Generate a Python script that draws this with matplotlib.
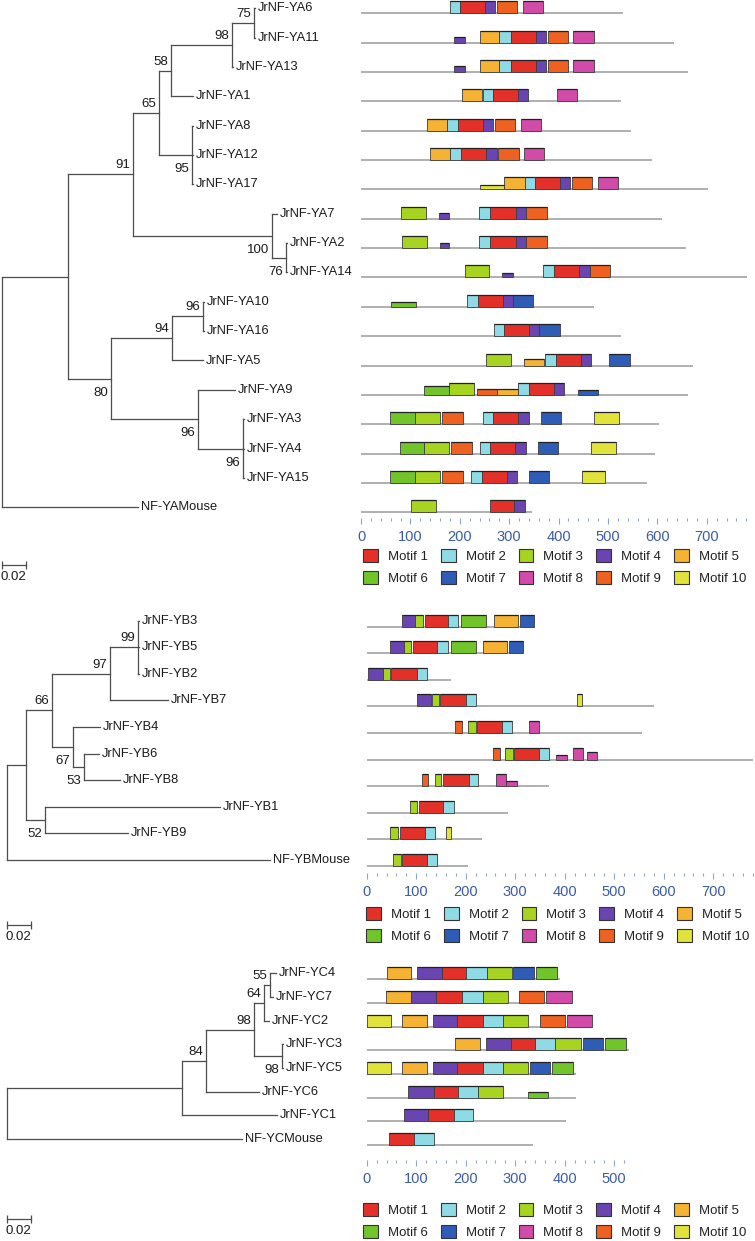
import matplotlib
matplotlib.use('Agg')
import matplotlib.pyplot as plt
from matplotlib.patches import Patch
from matplotlib.ticker import MultipleLocator

plt.rcParams['font.family'] = ['Liberation Sans', 'DejaVu Sans']

# ---- data: trees (newick, bootstrap as node name) ----
ya_tree = ("(((((((JrNF-YA6:0.0009,JrNF-YA11:0.0009)75:0.0187,JrNF-YA13:0.0009)98:0.0519,"
           "JrNF-YA1:0.0187)58:0.0102,(JrNF-YA8:0.0009,JrNF-YA12:0.0009,JrNF-YA17:0.0009)95:0.0281)65:0.0221,"
           "(JrNF-YA7:0.0043,(JrNF-YA2:0.0009,JrNF-YA14:0.0009)76:0.0119)100:0.1183)91:0.0553,"
           "(((JrNF-YA10:0.0009,JrNF-YA16:0.0009)96:0.0264,JrNF-YA5:0.0264)94:0.0519,"
           "(JrNF-YA9:0.0315,(JrNF-YA3:0.0009,JrNF-YA4:0.0009,JrNF-YA15:0.0009)96:0.0383)96:0.0740)80:0.0366):0.0562,"
           "NF-YAMouse:0.1157);")
yb_tree = ("(((((JrNF-YB3:0.0009,JrNF-YB5:0.0009,JrNF-YB2:0.0009)99:0.0238,JrNF-YB7:0.0494)97:0.0494,"
           "(JrNF-YB4:0.0230,(JrNF-YB6:0.0128,JrNF-YB8:0.0306)53:0.0094)67:0.0179)66:0.0221,"
           "(JrNF-YB1:0.1489,JrNF-YB9:0.0706)52:0.0162):0.0162,NF-YBMouse:0.2238);")
yc_tree = ("((((((JrNF-YC4:0.0051,JrNF-YC7:0.0026)55:0.0051,JrNF-YC2:0.0043)64:0.0085,"
           "(JrNF-YC3:0.0009,JrNF-YC5:0.0009)98:0.0238)98:0.0409,JrNF-YC6:0.0451)84:0.0204,"
           "JrNF-YC1:0.0809):0.1489,NF-YCMouse:0.2000);")

# ---- data: protein lengths (aa), same order as tree leaves ----
ya_len = [531, 634, 661, 526, 547, 589, 702, 610, 657, 781, 472, 526, 673, 661, 603, 596, 578, 347]
yb_len = [338, 316, 170, 580, 557, 781, 369, 285, 233, 205]
yc_len = [391, 414, 456, 530, 423, 423, 402, 335]

# ---- data: motifs (motif no., start, end, relative height) ----
ya_motifs = [
    [(2, 180, 200, 1), (1, 200, 250, 1), (4, 250, 272, 1), (9, 276, 316, 1), (8, 328, 368, 1)],
    [(4, 188, 210, .5), (5, 240, 280, 1), (2, 280, 303, 1), (1, 303, 354, 1), (4, 354, 374, 1), (9, 378, 419, 1), (8, 430, 471, 1)],
    [(4, 188, 210, .5), (5, 240, 280, 1), (2, 280, 303, 1), (1, 303, 354, 1), (4, 354, 374, 1), (9, 378, 419, 1), (8, 430, 471, 1)],
    [(5, 204, 244, 1), (2, 246, 268, 1), (1, 268, 317, 1), (4, 317, 339, 1), (8, 397, 438, 1)],
    [(5, 134, 175, 1), (2, 175, 197, 1), (1, 197, 246, 1), (4, 246, 268, 1), (9, 271, 312, 1), (8, 323, 364, 1)],
    [(5, 140, 181, 1), (2, 181, 203, 1), (1, 203, 254, 1), (4, 254, 275, 1), (9, 278, 319, 1), (8, 330, 371, 1)],
    [(10, 240, 289, .4), (5, 289, 331, 1), (2, 331, 353, 1), (1, 353, 402, 1), (4, 402, 423, 1), (9, 427, 468, 1), (8, 479, 520, 1)],
    [(3, 81, 131, 1), (4, 157, 178, .45), (2, 239, 261, 1), (1, 261, 313, 1), (4, 313, 334, 1), (9, 335, 377, 1)],
    [(3, 83, 133, 1), (4, 159, 179, .45), (2, 239, 262, 1), (1, 262, 313, 1), (4, 313, 334, 1), (9, 335, 377, 1)],
    [(3, 211, 260, 1), (4, 286, 307, .4), (2, 369, 391, 1), (1, 391, 442, 1), (4, 442, 463, 1), (9, 464, 505, 1)],
    [(6, 61, 111, .38), (2, 215, 236, 1), (1, 236, 287, 1), (4, 287, 307, 1), (7, 307, 348, 1)],
    [(2, 269, 290, 1), (1, 290, 341, 1), (4, 341, 361, 1), (7, 361, 403, 1)],
    [(3, 254, 304, 1), (5, 329, 370, .55), (2, 373, 395, 1), (1, 395, 445, 1), (4, 445, 466, 1), (7, 503, 545, 1)],
    [(6, 128, 178, .7), (3, 178, 228, 1), (9, 235, 276, .5), (5, 276, 317, .5), (2, 318, 340, 1), (1, 340, 390, 1), (4, 390, 411, 1), (7, 439, 480, .42)],
    [(6, 59, 110, 1), (3, 110, 159, 1), (9, 164, 206, 1), (2, 246, 268, 1), (1, 268, 318, 1), (4, 318, 340, 1), (7, 364, 405, 1), (10, 472, 522, 1)],
    [(6, 78, 128, 1), (3, 128, 178, 1), (9, 183, 224, 1), (2, 240, 261, 1), (1, 261, 312, 1), (4, 312, 333, 1), (7, 358, 399, 1), (10, 466, 516, 1)],
    [(6, 59, 110, 1), (3, 110, 159, 1), (9, 164, 206, 1), (2, 223, 244, 1), (1, 244, 295, 1), (4, 295, 315, 1), (7, 340, 381, 1), (10, 448, 494, 1)],
    [(3, 101, 152, 1), (1, 261, 310, 1), (4, 310, 332, 1)],
]
yb_motifs = [
    [(4, 71, 98, 1), (3, 98, 114, 1), (1, 118, 165, 1), (2, 165, 185, 1), (6, 191, 241, 1), (5, 257, 305, 1), (7, 309, 338, 1)],
    [(4, 47, 75, 1), (3, 75, 90, 1), (1, 94, 143, 1), (2, 143, 164, 1), (6, 170, 220, 1), (5, 234, 284, 1), (7, 287, 316, 1)],
    [(4, 3, 32, 1), (3, 32, 47, 1), (1, 50, 101, 1), (2, 101, 121, 1)],
    [(4, 102, 130, 1), (3, 131, 146, 1), (1, 148, 200, 1), (2, 200, 220, 1), (10, 425, 435, 1)],
    [(9, 178, 192, 1), (3, 205, 220, 1), (1, 222, 274, 1), (2, 274, 294, 1), (8, 328, 349, 1)],
    [(9, 255, 269, 1), (3, 280, 295, 1), (1, 297, 348, 1), (2, 348, 368, 1), (8, 383, 404, .4), (8, 417, 437, 1), (8, 445, 466, .6)],
    [(9, 112, 124, 1), (3, 137, 151, 1), (1, 155, 206, 1), (2, 206, 225, 1), (8, 262, 282, 1), (8, 282, 303, .4)],
    [(3, 87, 102, 1), (1, 106, 155, 1), (2, 155, 176, 1)],
    [(3, 48, 64, 1), (1, 67, 117, 1), (2, 117, 137, 1), (10, 160, 170, 1)],
    [(3, 54, 69, 1), (1, 72, 122, 1), (2, 122, 142, 1)],
]
yc_motifs = [
    [(5, 41, 90, 1), (4, 101, 152, 1), (1, 152, 201, 1), (2, 201, 243, 1), (3, 243, 293, 1), (7, 295, 338, 1), (6, 342, 385, 1)],
    [(5, 39, 90, 1), (4, 90, 141, 1), (1, 141, 192, 1), (2, 192, 234, 1), (3, 234, 285, 1), (9, 308, 358, 1), (8, 363, 414, 1)],
    [(10, 0, 50, 1), (5, 72, 121, 1), (4, 133, 183, 1), (1, 183, 234, 1), (2, 234, 275, 1), (3, 275, 326, 1), (9, 350, 400, 1), (8, 405, 456, 1)],
    [(5, 178, 229, 1), (4, 240, 291, 1), (1, 291, 341, 1), (2, 341, 380, 1), (3, 380, 432, 1), (7, 437, 477, 1), (6, 481, 523, 1)],
    [(10, 0, 50, 1), (5, 72, 121, 1), (4, 133, 183, 1), (1, 183, 234, 1), (2, 234, 275, 1), (3, 275, 326, 1), (7, 329, 371, 1), (6, 374, 416, 1)],
    [(4, 84, 135, 1), (1, 135, 184, 1), (2, 184, 224, 1), (3, 224, 275, 1), (6, 326, 367, .45)],
    [(4, 75, 124, 1), (1, 124, 176, 1), (2, 176, 215, 1)],
    [(1, 46, 96, 1), (2, 96, 135, 1)],
]

motif_names = ['Motif %d' % i for i in range(1, 11)]
motif_colors = ['#e3312a', '#8edbe6', '#a6d420', '#6a45b2', '#f6b232',
                '#72c42b', '#2f5cb6', '#d24ba9', '#ee6121', '#e1e33b']


# ---- newick parser ----
def parse_newick(s):
    pos = 0

    def node():
        nonlocal pos
        n = {'children': [], 'name': '', 'len': 0.0}
        if s[pos] == '(':
            pos += 1
            while True:
                n['children'].append(node())
                if s[pos] == ',':
                    pos += 1
                else:
                    break
            pos += 1
        start = pos
        while s[pos] not in ':,);':
            pos += 1
        n['name'] = s[start:pos]
        if s[pos] == ':':
            pos += 1
            start = pos
            while s[pos] not in ',);':
                pos += 1
            n['len'] = float(s[start:pos])
        return n
    return node()


def layout(n, leaves, depth=0.0):
    n['x'] = depth + n['len']
    if not n['children']:
        n['y'] = len(leaves)
        leaves.append(n)
    else:
        for c in n['children']:
            layout(c, leaves, n['x'])
        n['y'] = (n['children'][0]['y'] + n['children'][-1]['y']) / 2


TREE_C = '#4d4d4d'


def draw_tree(ax, n, upper=True):
    kids = n['children']
    for i, c in enumerate(kids):
        ax.plot([n['x'], c['x']], [c['y'], c['y']], color=TREE_C, lw=0.9)
        draw_tree(ax, c, i == 0)
    if kids:
        ax.plot([n['x'], n['x']], [kids[0]['y'], kids[-1]['y']], color=TREE_C, lw=0.9)
        if n['name']:
            # bootstrap: above the branch for the upper child, below for the lower one
            if upper:
                ax.annotate(n['name'], (n['x'], n['y']), xytext=(-3, 3), textcoords='offset pixels',
                            ha='right', va='bottom', fontsize=9.5, color='#1a1a1a')
            else:
                ax.annotate(n['name'], (n['x'], n['y']), xytext=(-3, -8), textcoords='offset pixels',
                            ha='right', va='top', fontsize=9.5, color='#1a1a1a')
    else:
        ax.annotate(n['name'], (n['x'], n['y']), xytext=(3, 0), textcoords='offset pixels',
                    ha='left', va='center', fontsize=9.3, color='#1a1a1a')


# ---- figure ----
W, H = 755, 1241
K = 1175.0  # tree pixels per unit branch length
fig = plt.figure(figsize=(W / 100, H / 100), dpi=100)

panels = [
    dict(tree=ya_tree, lengths=ya_len, motifs=ya_motifs, y0=8.3, pitch=29.35, base=5,
         x0=361, ppa=0.494, root=2, tick_top=518, bar_y=565, leg=(363, 549)),
    dict(tree=yb_tree, lengths=yb_len, motifs=yb_motifs, y0=620.6, pitch=26.6, base=6,
         x0=366.7, ppa=0.495, root=7, tick_top=873, bar_y=925, leg=(366, 907)),
    dict(tree=yc_tree, lengths=yc_len, motifs=yc_motifs, y0=973.3, pitch=23.67, base=6,
         x0=366.7, ppa=0.495, root=7, tick_top=1160, bar_y=1219, leg=(363, 1203)),
]

handles = [Patch(facecolor=c, edgecolor='#333333', lw=0.8) for c in motif_colors]
order = [0, 5, 1, 6, 2, 7, 3, 8, 4, 9]

for p in panels:
    row = lambda py: (py - p['y0']) / p['pitch']
    top = p['y0'] - p['pitch']

    # tree
    bot = p['bar_y'] + 25
    axt = fig.add_axes([0, 1 - bot / H, 345 / W, (bot - top) / H])
    axt.set_xlim(-p['root'] / K, (345 - p['root']) / K)
    axt.set_ylim(row(bot), row(top))
    axt.axis('off')
    root = parse_newick(p['tree'])
    leaves = []
    layout(root, leaves)
    draw_tree(axt, root)
    # scale bar
    by = row(p['bar_y'])
    axt.plot([0, 0.02], [by, by], color=TREE_C, lw=0.9, marker='|', markersize=6, mew=0.9)
    axt.annotate('0.02', (0.01, by), xytext=(0, -6), textcoords='offset pixels',
                 ha='center', va='top', fontsize=9.5, color='#1a1a1a')

    # motifs
    maxlen = max(p['lengths'])
    axm = fig.add_axes([p['x0'] / W, 1 - p['tick_top'] / H, maxlen * p['ppa'] / W,
                        (p['tick_top'] - top) / H])
    axm.set_xlim(0, maxlen)
    axm.set_ylim(row(p['tick_top']), row(top))
    full = 12.0 / p['pitch']
    for i, (ln, mots) in enumerate(zip(p['lengths'], p['motifs'])):
        base = i + p['base'] / p['pitch']
        axm.plot([0, ln], [base, base], color='#9a9a9a', lw=1.1, zorder=1, solid_capstyle='butt')
        for m, s, e, h in mots:
            axm.bar(s, full * h, width=e - s, bottom=base - full * h, align='edge',
                    color=motif_colors[m - 1], edgecolor='#3c3c3c', lw=0.6, zorder=2)
            axm.plot([s, e], [base - full * h] * 2, color='#222222', lw=0.9, zorder=3,
                     solid_capstyle='butt')
    for sp in axm.spines.values():
        sp.set_visible(False)
    axm.patch.set_alpha(0)
    axm.set_yticks([])
    axm.xaxis.set_major_locator(MultipleLocator(100))
    axm.xaxis.set_minor_locator(MultipleLocator(20))
    axm.tick_params(axis='x', which='major', length=4.5, width=0.8, color='#8ea4d2',
                    labelcolor='#3b5ca6', labelsize=10.5, pad=4)
    axm.tick_params(axis='x', which='minor', length=2.2, width=0.8, color='#8ea4d2')

    # legend
    lx, ly = p['leg']
    fig.legend([handles[j] for j in order], [motif_names[j] for j in order], ncol=5,
               loc='upper left', bbox_to_anchor=(lx / W, 1 - ly / H), frameon=False,
               fontsize=9.5, handlelength=1.12, handleheight=1.12, handletextpad=0.75,
               columnspacing=1.0, labelspacing=0.65, borderpad=0, borderaxespad=0,
               labelcolor='#222222')

fig.savefig('out.png', dpi=100)
